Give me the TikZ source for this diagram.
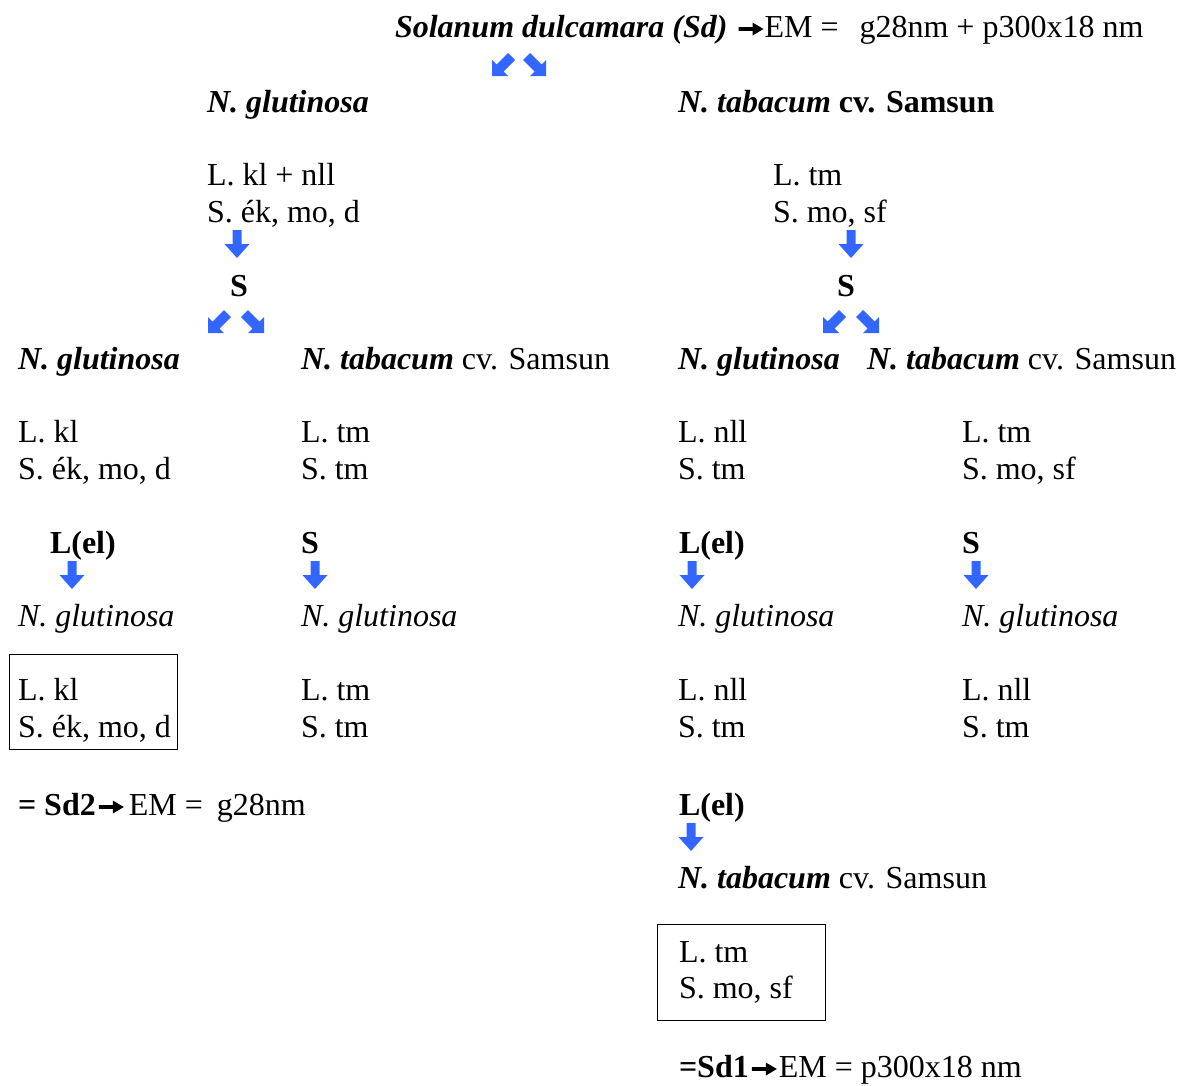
\documentclass[tikz,border=0pt]{standalone}
\usepackage{fontspec}
\setmainfont{Liberation Serif}
\definecolor{arrowblue}{RGB}{51,102,255}
\tikzset{
  txt/.style={inner sep=0pt, outer sep=0pt, anchor=base west, font=\fontsize{32}{37}\selectfont},
  boxframe/.style={draw=black, line width=1.2pt, inner sep=0pt, anchor=north west},
  dnarrow/.pic={\fill[arrowblue] (-4.5,0) -- (4.5,0) -- (4.5,14) -- (12.5,14) -- (0,28) -- (-12.5,14) -- (-4.5,14) -- cycle;},
  swarrow/.pic={\fill[arrowblue] (0,24) -- (0,8) -- (4.5,12.5) -- (16,1) -- (23,8) -- (11.5,19.5) -- (16,24) -- cycle;},
  searrow/.pic={\begin{scope}[xscale=-1]\fill[arrowblue] (0,24) -- (0,8) -- (4.5,12.5) -- (16,1) -- (23,8) -- (11.5,19.5) -- (16,24) -- cycle;\end{scope}},
  blkarrow/.pic={\fill[black] (0,-1.8) -- (14,-1.8) -- (14,-6.5) -- (25,0) -- (14,6.5) -- (14,1.8) -- (0,1.8) -- cycle;}
}
\begin{document}
\begin{tikzpicture}[x=1pt,y=-1pt]
\useasboundingbox (0,0) rectangle (1180,1085);
% title
\node[txt] (title) at (395,37) {\textbf{\textit{Solanum dulcamara (Sd)}}};
\pic at ([shift={(11,-8)}]title.base east) {blkarrow};
\node[txt] (titleem) at ([xshift=37]title.base east) {EM =\hspace{21pt}g28nm + p300x18 nm};
\pic at (492,52) {swarrow};
\pic at (546,52) {searrow};
% level 1
\node[txt] (g1) at (207,112) {\textbf{\textit{N. glutinosa}}};
\node[txt] (t1) at (678,112) {\textbf{\textit{N. tabacum} cv. Samsun}};
\node[txt] (g1a) at (207,185) {L. kl + nll};
\node[txt] (g1b) at (207,222) {S. ék, mo, d};
\node[txt] (t1a) at (773,185) {L. tm};
\node[txt] (t1b) at (773,222) {S. mo, sf};
\pic at (237,230) {dnarrow};
\pic at (851,230) {dnarrow};
\node[txt] (s1) at (230,296) {\textbf{S}};
\node[txt] (s2) at (837,296) {\textbf{S}};
\pic at (208,309) {swarrow};
\pic at (264,309) {searrow};
\pic at (823,309) {swarrow};
\pic at (879,309) {searrow};
% level 2
\node[txt] (g2) at (18,369) {\textbf{\textit{N. glutinosa}}};
\node[txt] (t2) at (301,369) {\textbf{\textit{N. tabacum}} cv. Samsun};
\node[txt] (g3) at (678,369) {\textbf{\textit{N. glutinosa}}};
\node[txt] (t3) at (867,369) {\textbf{\textit{N. tabacum}} cv. Samsun};
\node[txt] (g2a) at (18,442) {L. kl};
\node[txt] (g2b) at (18,479) {S. ék, mo, d};
\node[txt] (t2a) at (301,442) {L. tm};
\node[txt] (t2b) at (301,479) {S. tm};
\node[txt] (g3a) at (678,442) {L. nll};
\node[txt] (g3b) at (678,479) {S. tm};
\node[txt] (t3a) at (962,442) {L. tm};
\node[txt] (t3b) at (962,479) {S. mo, sf};
% level 3
\node[txt] (el1) at (50,553) {\textbf{L(el)}};
\node[txt] (s3) at (301,553) {\textbf{S}};
\node[txt] (el2) at (679,553) {\textbf{L(el)}};
\node[txt] (s4) at (962,553) {\textbf{S}};
\pic at (72,561) {dnarrow};
\pic at (315,561) {dnarrow};
\pic at (692,561) {dnarrow};
\pic at (976,561) {dnarrow};
\node[txt] (r1) at (18,626) {\textit{N. glutinosa}};
\node[txt] (r2) at (301,626) {\textit{N. glutinosa}};
\node[txt] (r3) at (678,626) {\textit{N. glutinosa}};
\node[txt] (r4) at (962,626) {\textit{N. glutinosa}};
\node[boxframe, minimum width=168pt, minimum height=95pt] (boxA) at (9,654) {};
\node[txt] (r1a) at (18,700) {L. kl};
\node[txt] (r1b) at (18,737) {S. ék, mo, d};
\node[txt] (r2a) at (301,700) {L. tm};
\node[txt] (r2b) at (301,737) {S. tm};
\node[txt] (r3a) at (678,700) {L. nll};
\node[txt] (r3b) at (678,737) {S. tm};
\node[txt] (r4a) at (962,700) {L. nll};
\node[txt] (r4b) at (962,737) {S. tm};
% result Sd2
\node[txt] (sd2) at (18,815) {\textbf{= Sd2}};
\pic at ([shift={(3,-8)}]sd2.base east) {blkarrow};
\node[txt] (sd2em) at ([xshift=33]sd2.base east) {EM =\hspace{14pt}g28nm};
% right branch continued
\node[txt] (el3) at (679,815) {\textbf{L(el)}};
\pic at (691,823) {dnarrow};
\node[txt] (t4) at (678,888) {\textbf{\textit{N. tabacum}} cv. Samsun};
\node[boxframe, minimum width=168pt, minimum height=96pt] (boxB) at (657,924) {};
\node[txt] (t4a) at (679,962) {L. tm};
\node[txt] (t4b) at (679,998) {S. mo, sf};
\node[txt] (sd1) at (679,1077) {\textbf{=Sd1}};
\pic at ([shift={(3,-8)}]sd1.base east) {blkarrow};
\node[txt] (sd1em) at ([xshift=30]sd1.base east) {EM = p300x18 nm};
\end{tikzpicture}
\end{document}
